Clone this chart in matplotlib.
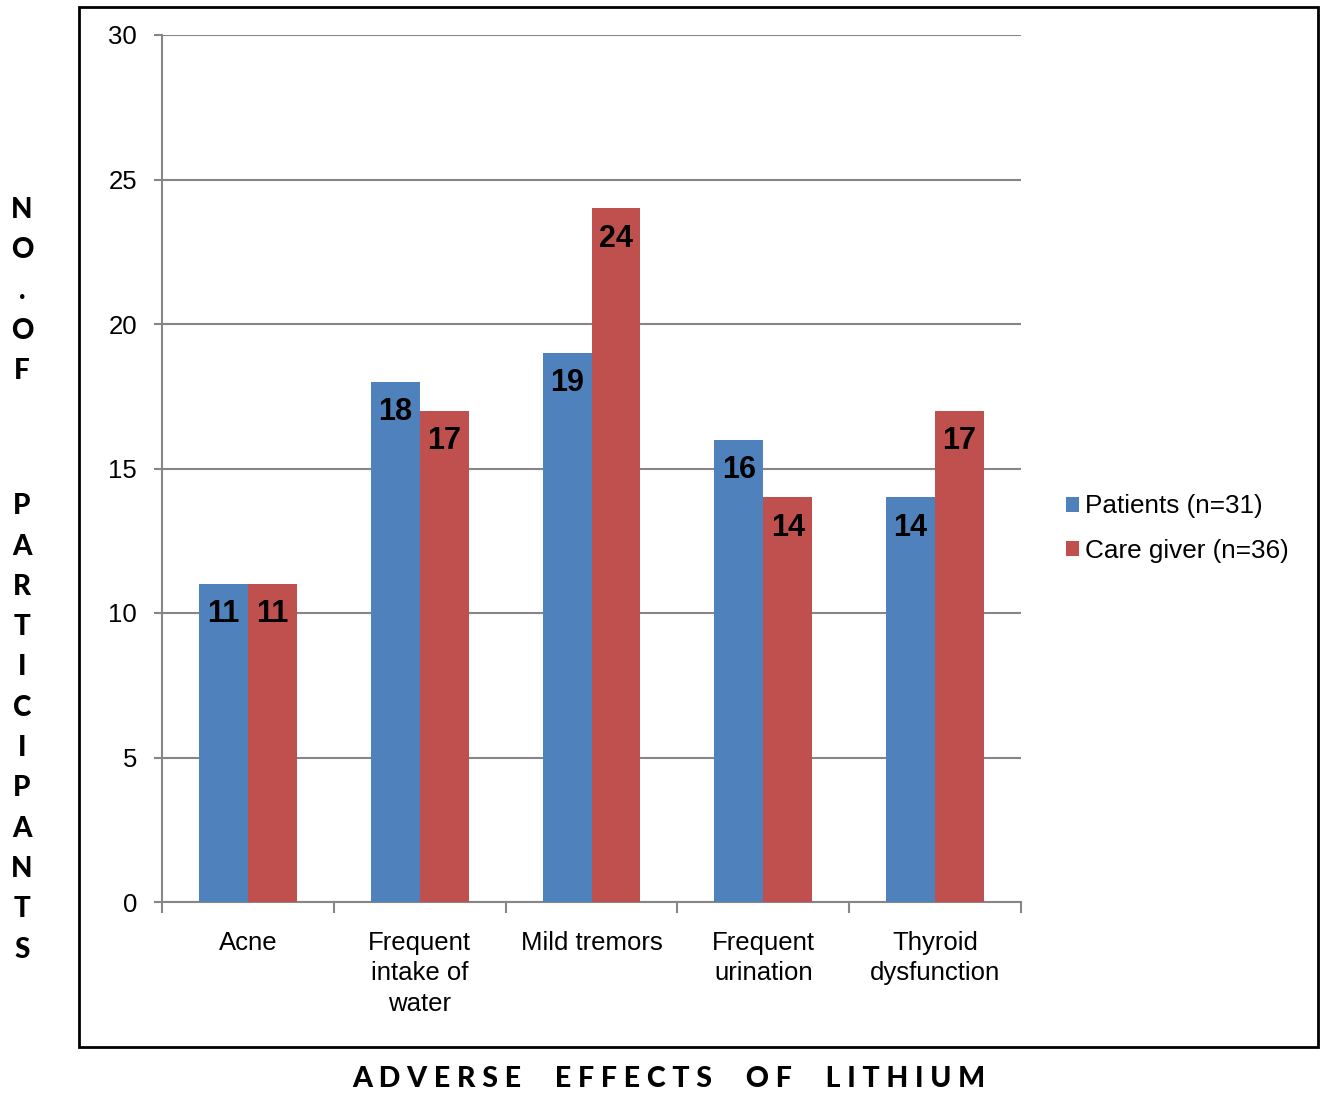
import numpy as np
import matplotlib.pyplot as plt
from matplotlib.patches import Rectangle

categories = ["Acne", "Frequent\nintake of\nwater", "Mild tremors", "Frequent\nurination", "Thyroid\ndysfunction"]
patients = [11, 18, 19, 16, 14]
carers = [11, 17, 24, 14, 17]
series_names = ["Patients (n=31)", "Care giver (n=36)"]
ylabel_top = "NO.OF"
ylabel_bottom = "PARTICIPANTS"
xtitle = "ADVERSE  EFFECTS  OF  LITHIUM"

blue = "#4F81BD"
red = "#C0504D"
grid_col = "#868686"

W, H = 1320, 1095
fig = plt.figure(figsize=(W / 100, H / 100), dpi=100)
ax = fig.add_axes([162 / W, 1 - 902 / H, (1021 - 162) / W, (902 - 35) / H])

x = np.arange(len(categories))
bw = 0.285
b1 = ax.bar(x - bw / 2, patients, bw, color=blue, label=series_names[0], zorder=3)
b2 = ax.bar(x + bw / 2, carers, bw, color=red, label=series_names[1], zorder=3)

for bars, vals in ((b1, patients), (b2, carers)):
    for r, v in zip(bars, vals):
        ax.text(r.get_x() + r.get_width() / 2, v - 1.05, str(v), ha="center", va="center",
                fontsize=22, fontweight="bold", family="Liberation Sans", zorder=4)

ax.set_xlim(-0.5, len(categories) - 0.5)
ax.set_ylim(0, 30)
ax.set_yticks(np.arange(0, 31, 5))
ax.yaxis.grid(True, color=grid_col, linewidth=1.5, zorder=0)
ax.set_axisbelow(True)
for lab in ax.get_yticklabels():
    lab.set_family("Liberation Sans")
    lab.set_fontsize(18.5)
ax.tick_params(axis="y", length=6, width=1.5, color=grid_col, pad=12)

ax.set_xticks(np.arange(-0.5, len(categories), 1.0))
ax.set_xticklabels([])
ax.set_xticks(x, minor=True)
ax.set_xticklabels(categories, minor=True, fontsize=18.5, family="Liberation Sans", linespacing=1.33)
ax.tick_params(axis="x", which="major", length=8, width=1.5, color=grid_col)
ax.tick_params(axis="x", which="minor", length=0, pad=21)

for s in ["top", "right"]:
    ax.spines[s].set_visible(False)
for s in ["left", "bottom"]:
    ax.spines[s].set_color(grid_col)
    ax.spines[s].set_linewidth(1.5)

leg = fig.legend(handles=[b1, b2], labels=series_names, loc="upper left",
                 bbox_to_anchor=(1042 / W, 1 - 471 / H), frameon=False,
                 prop={"family": "Liberation Sans", "size": 18.8},
                 handlelength=0.5, handleheight=0.5, handletextpad=0.25, labelspacing=0.77)

# outer border
fig.patches.append(Rectangle((79 / W, 1 - 1047 / H), (1318 - 79) / W, (1047 - 7) / H,
                             transform=fig.transFigure, fill=False, edgecolor="black", linewidth=2))

# stacked y label
step = 40.3
ypos = 210
for ch in ylabel_top:
    fig.text(22 / W, 1 - ypos / H, ch, ha="center", va="center", fontsize=20,
             fontweight="black", family="Lato")
    ypos += step
ypos += step * 2.35
for ch in ylabel_bottom:
    fig.text(22 / W, 1 - ypos / H, ch, ha="center", va="center", fontsize=20,
             fontweight="black", family="Lato")
    ypos += step

fig.text(669 / W, 1 - 1079 / H, " ".join(xtitle), ha="center", va="center", fontsize=20.5,
         fontweight="black", family="Lato")

fig.savefig("out.png", dpi=100)
